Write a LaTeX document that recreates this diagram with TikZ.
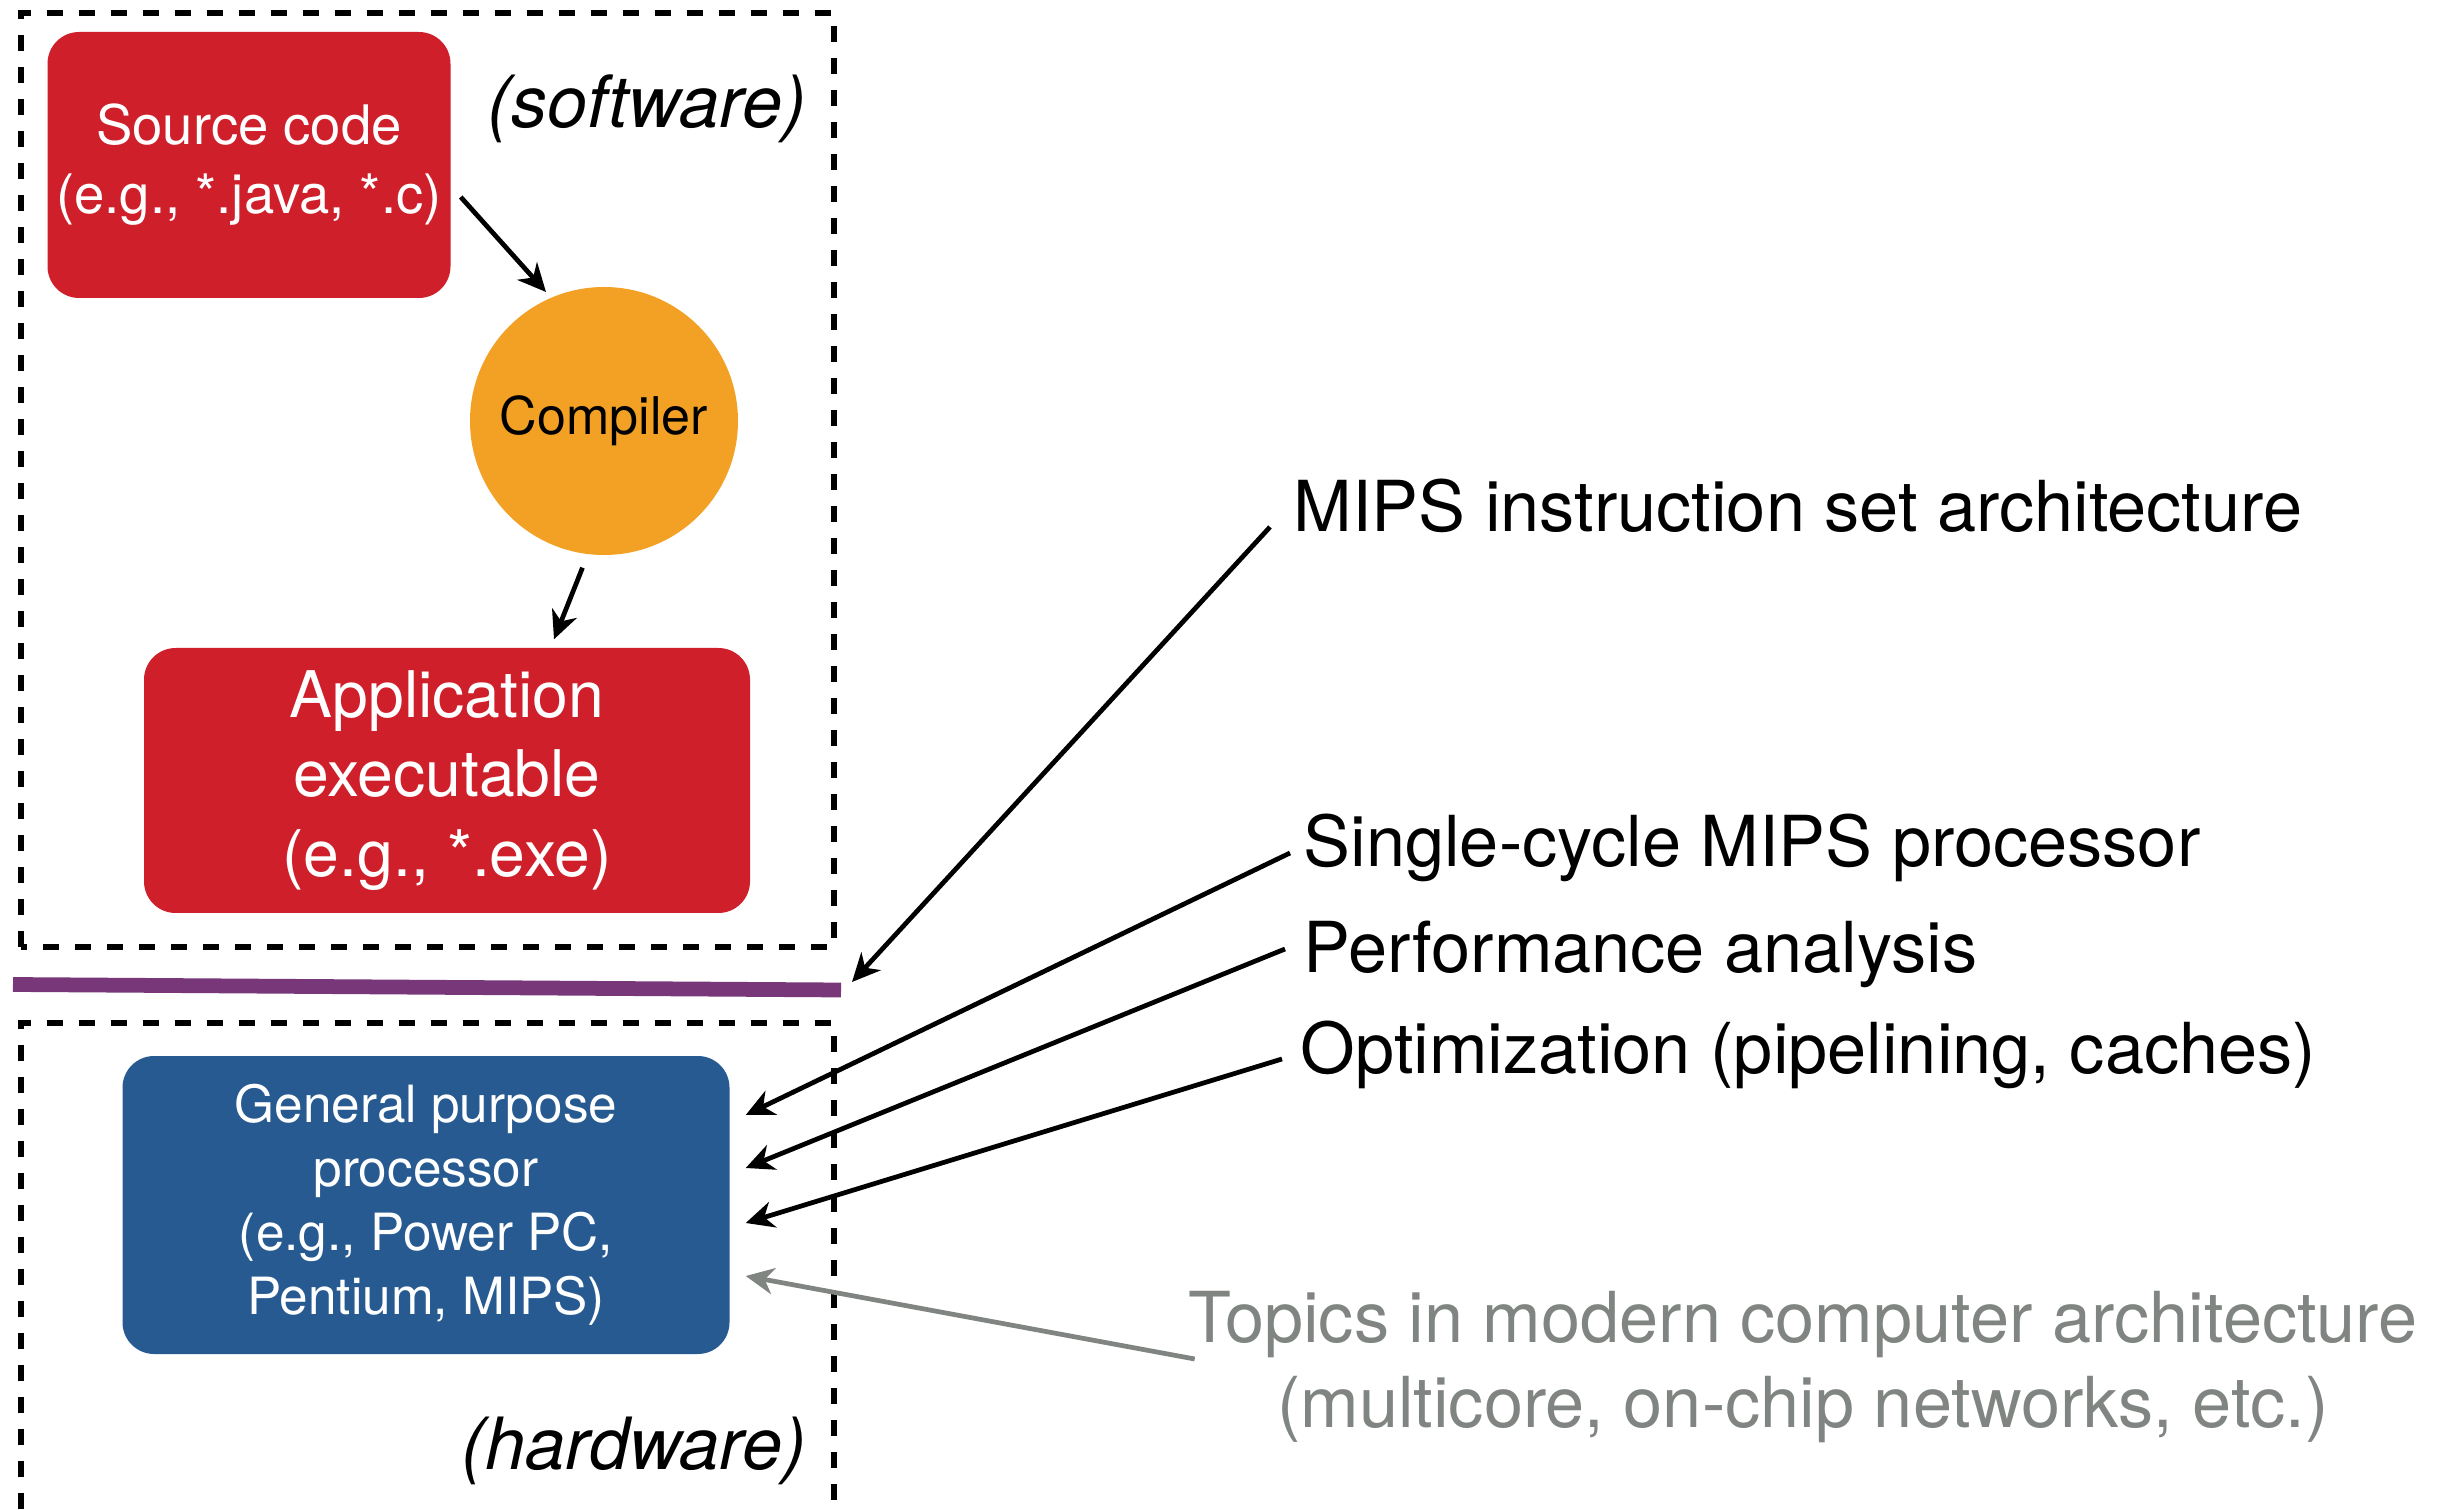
\documentclass[tikz,border=0pt]{standalone}
\usepackage{fontspec}
\setmainfont{TeX Gyre Heros}
\usetikzlibrary{arrows.meta,positioning,calc}
\definecolor{srcred}{HTML}{CF1F2B}
\definecolor{compyellow}{HTML}{F2A124}
\definecolor{cpublue}{HTML}{265A91}
\definecolor{isapurple}{HTML}{773779}
\definecolor{topicgray}{HTML}{808582}
\newcommand{\fsz}[2]{\fontsize{#1pt}{#2pt}\selectfont}

\begin{document}
\begin{tikzpicture}[
  every node/.style={inner sep=0pt},
  block/.style={rounded corners=9pt, align=center, text=white},
  frame/.style={line width=1.6pt, dash pattern=on 0.16cm off 0.16cm},
  arrow/.style={-{Stealth[length=8pt, width=7.5pt, inset=2.5pt]}, line width=1.35pt},
  topic/.style={anchor=base west, font=\fsz{20}{24}},
  side/.style={anchor=base, font=\fsz{20.5}{24}\itshape}
]
\useasboundingbox (0,0) rectangle (24.56,15.09);

% software
\draw[frame] (0.21,5.62) rectangle (8.34,14.96);
\node[block, fill=srcred, minimum width=4.03cm, minimum height=2.66cm, font=\fsz{15.5}{19.6}]
  (src) at (2.49,13.44) {Source code\\(e.g., *.java, *.c)};
\node[circle, fill=compyellow, minimum size=2.68cm, font=\fsz{14.8}{18}] (comp) at (6.04,10.88) {Compiler};
\node[block, fill=srcred, minimum width=6.06cm, minimum height=2.65cm, font=\fsz{18.3}{22.7}]
  (app) at (4.47,7.285) {Application\\executable\\(e.g., *.exe)};
\node[side] (sw) at (6.47,13.81) {(software)};

\draw[arrow] ($(src.east)+(0.095,-0.32)$) -- ($(comp.center)+(-0.58,1.29)$);
\draw[arrow] ($(comp.south)+(-0.215,-0.12)$) -- ($(app.north)+(1.07,0.08)$);

% interface
\coordinate (ifl) at (0.13,5.245);
\coordinate (ifr) at (8.41,5.19);
\draw[isapurple, line width=4.2pt] (ifl) -- (ifr);

% hardware
\draw[frame] (0.21,0) -- (0.21,4.86) -- (8.34,4.86) -- (8.34,0);
\node[block, fill=cpublue, minimum width=6.07cm, minimum height=2.98cm, font=\fsz{14.6}{18.2}]
  (gpp) at (4.26,3.04) {General purpose\\processor\\(e.g., Power PC,\\Pentium, MIPS)};
\node[side] (hw) at (6.34,0.40) {(hardware)};

% course topics
\node[topic] (isa) at (12.93,9.77) {MIPS instruction set architecture};
\node[topic] (single) at (13.03,6.42) {Single-cycle MIPS processor};
\node[topic] (perf) at (13.03,5.37) {Performance analysis};
\node[topic] (opt) at (13.0,4.36) {Optimization (pipelining, caches)};
\node[align=center, text=topicgray, font=\fsz{20}{24.2}] (topics) at (18.03,1.42)
  {Topics in modern computer architecture\\(multicore, on-chip networks, etc.)};

\draw[arrow] ($(isa.base west)+(-0.23,0.05)$) -- ($(ifr)+(0.11,0.08)$);
\draw[arrow] ($(single.base west)+(-0.13,0.14)$) -- ($(gpp.east)+(0.155,0.90)$);
\draw[arrow] ($(perf.base west)+(-0.18,0.23)$) -- ($(gpp.east)+(0.155,0.37)$);
\draw[arrow] ($(opt.base west)+(-0.18,0.14)$) -- ($(gpp.east)+(0.155,-0.18)$);
\draw[arrow, topicgray] ($(topics.west)+(0.07,0.08)$) -- ($(gpp.east)+(0.155,-0.71)$);
\end{tikzpicture}
\end{document}
